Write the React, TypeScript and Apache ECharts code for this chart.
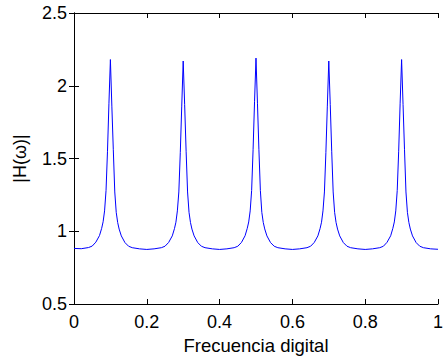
import React, { useEffect, useRef } from "react";
import * as echarts from "echarts";

// Digital frequency samples
const freq: number[] = [
  0, 0.02, 0.04, 0.05, 0.06, 0.07, 0.076, 0.08, 0.084, 0.088, 0.092, 0.096,
  0.1, 0.104, 0.108, 0.112, 0.116, 0.12, 0.124, 0.13, 0.14, 0.15, 0.16, 0.18,
  0.2, 0.22, 0.24, 0.25, 0.26, 0.27, 0.276, 0.28, 0.284, 0.288, 0.292, 0.296,
  0.3, 0.304, 0.308, 0.312, 0.316, 0.32, 0.324, 0.33, 0.34, 0.35, 0.36, 0.38,
  0.4, 0.42, 0.44, 0.45, 0.46, 0.47, 0.476, 0.48, 0.484, 0.488, 0.492, 0.496,
  0.5, 0.504, 0.508, 0.512, 0.516, 0.52, 0.524, 0.53, 0.54, 0.55, 0.56, 0.58,
  0.6, 0.62, 0.64, 0.65, 0.66, 0.67, 0.676, 0.68, 0.684, 0.688, 0.692, 0.696,
  0.7, 0.704, 0.708, 0.712, 0.716, 0.72, 0.724, 0.73, 0.74, 0.75, 0.76, 0.78,
  0.8, 0.82, 0.84, 0.85, 0.86, 0.87, 0.876, 0.88, 0.884, 0.888, 0.892, 0.896,
  0.9, 0.904, 0.908, 0.912, 0.916, 0.92, 0.924, 0.93, 0.94, 0.95, 0.96, 0.98,
  1.0,
];

// |H(w)| magnitudes
const magnitude: number[] = [
  0.882, 0.880, 0.888, 0.898, 0.925, 0.970, 1.020, 1.065, 1.14, 1.28, 1.55, 1.88,
  2.18, 1.86, 1.56, 1.27, 1.13, 1.06, 1.015, 0.968, 0.922, 0.897, 0.887, 0.879,
  0.875, 0.879, 0.887, 0.897, 0.923, 0.968, 1.018, 1.062, 1.14, 1.27, 1.54, 1.86,
  2.17, 1.87, 1.55, 1.27, 1.13, 1.06, 1.015, 0.968, 0.922, 0.897, 0.887, 0.879,
  0.875, 0.879, 0.887, 0.897, 0.923, 0.969, 1.02, 1.064, 1.14, 1.28, 1.56, 1.89,
  2.19, 1.88, 1.56, 1.28, 1.13, 1.06, 1.016, 0.968, 0.922, 0.897, 0.887, 0.879,
  0.875, 0.879, 0.887, 0.897, 0.923, 0.968, 1.018, 1.062, 1.14, 1.27, 1.54, 1.86,
  2.17, 1.87, 1.55, 1.27, 1.13, 1.06, 1.015, 0.968, 0.922, 0.897, 0.887, 0.879,
  0.875, 0.879, 0.887, 0.897, 0.924, 0.969, 1.02, 1.064, 1.14, 1.28, 1.55, 1.88,
  2.18, 1.87, 1.56, 1.27, 1.13, 1.06, 1.015, 0.968, 0.922, 0.897, 0.887, 0.879,
  0.876,
];

const xTicks: string[] = ["0", "0.2", "0.4", "0.6", "0.8", "1"];
const yTicks: string[] = ["0.5", "1", "1.5", "2", "2.5"];

const FONT = "'Liberation Sans', Arial, sans-serif";

export default function App() {
  const ref = useRef<HTMLDivElement>(null);

  useEffect(() => {
    if (!ref.current) return;
    const chart = echarts.init(ref.current, undefined, { renderer: "svg" });
    const data = freq.map((f, i) => [f, magnitude[i]]);
    const xLabel = (v: number) => {
      const idx = Math.round(v / 0.2);
      return xTicks[idx] ?? "";
    };
    const yLabel = (v: number) => {
      const idx = Math.round((v - 0.5) / 0.5);
      return yTicks[idx] ?? "";
    };
    const axisLine = { show: true, lineStyle: { color: "#000", width: 1 } };
    const tick = { show: true, inside: true, length: 5, lineStyle: { color: "#000", width: 1 } };
    chart.setOption({
      animation: false,
      backgroundColor: "#fff",
      grid: { left: 74, right: 1, top: 13, bottom: 58, containLabel: false },
      xAxis: [
        {
          type: "value",
          min: 0,
          max: 1,
          interval: 0.2,
          position: "bottom",
          name: "Frecuencia digital",
          nameLocation: "middle",
          nameGap: 25,
          nameTextStyle: { fontFamily: FONT, fontSize: 18.5, color: "#000" },
          axisLine,
          axisTick: tick,
          splitLine: { show: false },
          axisLabel: {
            formatter: xLabel,
            fontFamily: FONT,
            fontSize: 18,
            color: "#000",
            margin: 9,
            showMaxLabel: true,
            showMinLabel: true,
          },
        },
        {
          type: "value",
          min: 0,
          max: 1,
          interval: 0.2,
          position: "top",
          axisLine,
          axisTick: tick,
          splitLine: { show: false },
          axisLabel: { show: false },
        },
      ],
      yAxis: [
        {
          type: "value",
          min: 0.5,
          max: 2.5,
          interval: 0.5,
          position: "left",
          name: "|H(ω)|",
          nameLocation: "middle",
          nameGap: 45,
          nameRotate: 90,
          nameTextStyle: { fontFamily: FONT, fontSize: 18, color: "#000" },
          axisLine,
          axisTick: tick,
          splitLine: { show: false },
          axisLabel: {
            formatter: yLabel,
            fontFamily: FONT,
            fontSize: 18,
            color: "#000",
            margin: 7,
          },
        },
        {
          type: "value",
          min: 0.5,
          max: 2.5,
          interval: 0.5,
          position: "right",
          axisLine,
          axisTick: tick,
          splitLine: { show: false },
          axisLabel: { show: false },
        },
      ],
      series: [
        {
          type: "line",
          data,
          showSymbol: false,
          symbol: "none",
          lineStyle: { color: "#0000ff", width: 1 },
          xAxisIndex: 0,
          yAxisIndex: 0,
        },
      ],
    });
    return () => chart.dispose();
  }, []);

  return (
    <div
      ref={ref}
      style={{ position: "fixed", left: 0, top: 0, width: 446, height: 362, background: "#fff" }}
    />
  );
}
